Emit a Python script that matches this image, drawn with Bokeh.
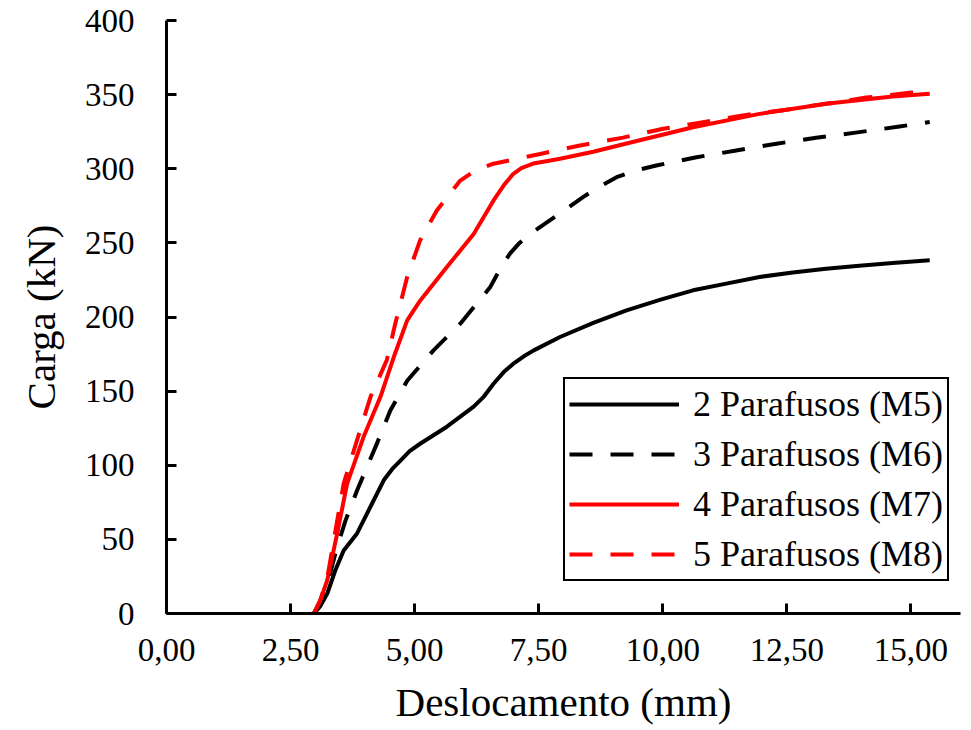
from bokeh.plotting import figure
from bokeh.models import (Range1d, FixedTicker, CustomJSTickFormatter, Legend, LegendItem)
from bokeh.embed import file_html
from bokeh.resources import INLINE

# ---- data ----
x_m5 = [2.97, 3.10, 3.24, 3.40, 3.57, 3.84, 4.11, 4.38, 4.55, 4.71, 4.90, 5.11, 5.65, 6.19, 6.40,
        6.59, 6.80, 6.99, 7.20, 7.40, 7.93, 8.60, 9.27, 9.94, 10.61, 11.28, 11.95, 12.62, 13.29,
        13.96, 14.63, 15.38]
y_m5 = [0, 5, 13.5, 29, 42.5, 54, 72, 90, 97.5, 103, 109.5, 114.5, 126, 139.5, 146.5,
        155, 163, 168.5, 173.5, 177.5, 186.5, 196, 204.5, 211.5, 218, 222.5, 227, 230, 232.6,
        234.5, 236.4, 238.3]

x_m6 = [2.97, 3.10, 3.24, 3.44, 3.61, 3.84, 4.24, 4.51, 4.85, 5.38, 5.92, 6.52, 6.75, 6.92, 7.10,
        7.33, 7.93, 8.40, 8.70, 9.07, 9.45, 9.87, 10.68, 11.48, 12.29, 13.09, 13.96, 14.77, 15.38]
y_m6 = [0, 8, 20, 45, 63, 83, 114.6, 137, 157, 177.5, 195.5, 220, 234, 242.7, 249.5,
        256, 270, 281, 287.5, 294.3, 298.8, 302.2, 307.8, 312.3, 316.9, 320.9, 324.7, 328.5, 331.5]

x_m7 = [2.97, 3.10, 3.24, 3.44, 3.64, 3.97, 4.31, 4.58, 4.85, 5.11, 5.65, 6.19, 6.59, 6.80, 6.99,
        7.15, 7.39, 7.65, 7.93, 8.60, 9.27, 10.61, 11.95, 13.29, 14.63, 15.38]
y_m7 = [0, 9, 22.5, 54, 87.6, 119, 146, 173, 197.7, 211, 233.7, 256, 278.6, 289, 296.6,
        300.5, 303.5, 305, 306.8, 311.5, 317, 328, 337, 343.8, 348.7, 350.6]

x_m8 = [2.97, 3.10, 3.24, 3.40, 3.57, 3.84, 4.11, 4.44, 4.61, 4.85, 5.11, 5.45, 5.92, 6.25, 6.59,
        7.53, 8.33, 9.20, 10.01, 10.81, 11.61, 12.49, 13.29, 14.10, 14.97, 15.38]
y_m8 = [0, 9, 24, 55, 87.6, 117, 146, 171, 195.5, 227, 251.7, 272, 292, 299.5, 303.4,
        310, 315.7, 321, 327, 331.4, 336, 339.8, 343.8, 348, 351.2, 352.5]

series_names = ["2 Parafusos (M5)", "3 Parafusos (M6)", "4 Parafusos (M7)", "5 Parafusos (M8)"]

x_ticks = [0, 2.5, 5, 7.5, 10, 12.5, 15]
x_tick_labels = ["0,00", "2,50", "5,00", "7,50", "10,00", "12,50", "15,00"]
y_ticks = [0, 50, 100, 150, 200, 250, 300, 350, 400]

x_title = "Deslocamento (mm)"
y_title = "Carga (kN)"

FONT = "'Liberation Serif', 'Times New Roman', serif"

p = figure(width=971, height=730, output_backend="svg", toolbar_location=None,
           x_range=Range1d(0, 16), y_range=Range1d(0, 400),
           min_border_left=166, min_border_right=11, min_border_top=20, min_border_bottom=117)
p.outline_line_color = None
p.grid.visible = False
p.background_fill_color = "white"
p.border_fill_color = "white"

r5 = p.line(x_m5, y_m5, line_color="black", line_width=4, line_join="round")
r6 = p.line(x_m6, y_m6, line_color="black", line_width=4, line_dash="23 18", line_join="round")
r7 = p.line(x_m7, y_m7, line_color="#FF0000", line_width=4, line_join="round")
r8 = p.line(x_m8, y_m8, line_color="#FF0000", line_width=4, line_dash="23 18", line_join="round")

for ax in (p.xaxis[0], p.yaxis[0]):
    ax.axis_line_width = 3
    ax.axis_line_color = "black"
    ax.major_tick_line_width = 3
    ax.major_tick_line_color = "black"
    ax.major_tick_in = 10
    ax.major_tick_out = 0
    ax.minor_tick_line_color = None
    ax.major_label_text_font = FONT
    ax.major_label_text_font_size = "33px"
    ax.major_label_text_color = "black"
    ax.axis_label_text_font = FONT
    ax.axis_label_text_font_size = "41px"
    ax.axis_label_text_font_style = "normal"
    ax.axis_label_text_color = "black"

p.xaxis[0].ticker = FixedTicker(ticks=x_ticks)
p.xaxis[0].formatter = CustomJSTickFormatter(
    args=dict(vals=x_ticks, labs=x_tick_labels),
    code="""
    for (let i = 0; i < vals.length; i++) {
        if (Math.abs(vals[i] - tick) < 1e-9) { return labs[i]; }
    }
    return "";
    """)
p.xaxis[0].major_label_standoff = 25
p.xaxis[0].axis_label = x_title
p.xaxis[0].axis_label_standoff = 15

p.yaxis[0].ticker = FixedTicker(ticks=y_ticks)
p.yaxis[0].major_label_standoff = 32
p.yaxis[0].axis_label = y_title
p.yaxis[0].axis_label_standoff = 18

legend = Legend(items=[
    LegendItem(label=series_names[0], renderers=[r5]),
    LegendItem(label=series_names[1], renderers=[r6]),
    LegendItem(label=series_names[2], renderers=[r7]),
    LegendItem(label=series_names[3], renderers=[r8]),
], location=(397, 32))
legend.label_text_font = FONT
legend.label_text_font_size = "36px"
legend.label_text_color = "black"
legend.glyph_width = 110
legend.glyph_height = 42
legend.label_height = 42
legend.label_standoff = 14
legend.spacing = 8
legend.padding = 4
legend.margin = 0
legend.border_line_color = "black"
legend.border_line_alpha = 1
legend.border_line_width = 2
legend.background_fill_color = "white"
legend.background_fill_alpha = 1
p.add_layout(legend, "center")

open("out.html", "w").write(file_html(p, INLINE))
